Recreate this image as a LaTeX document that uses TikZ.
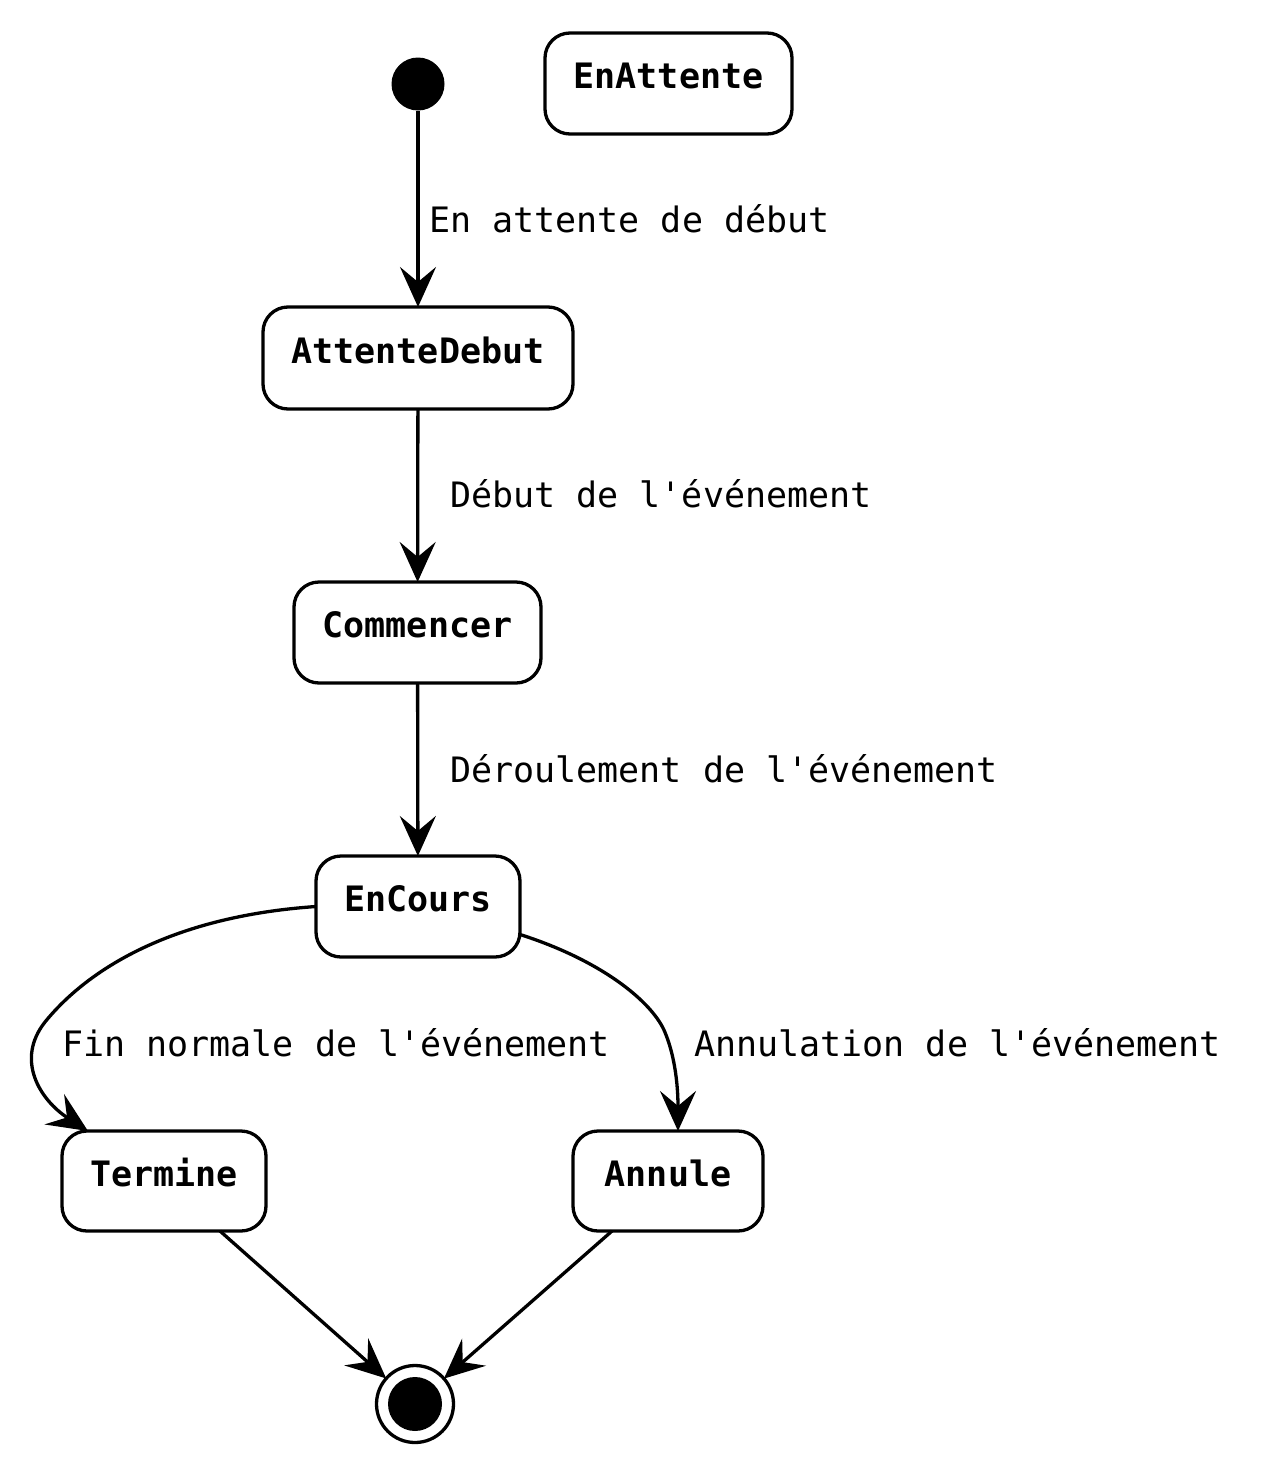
\documentclass[tikz,border=0pt]{standalone}
\usepackage{fontspec}
\newfontfamily\monof{DejaVu Sans Mono}
\usetikzlibrary{arrows.meta}
\begin{document}
\begin{tikzpicture}[x=1pt,y=-1pt,
  state/.style={draw=black,line width=3.3pt,rounded corners=25pt,fill=white,inner sep=0pt,outer sep=0pt,
    font=\monof\bfseries\fontsize{35}{42}\selectfont,text height=25pt,text depth=15pt},
  lbl/.style={inner sep=0pt,anchor=base west,font=\monof\fontsize{35}{42}\selectfont},
  trans/.style={line width=3.3pt,-{Stealth[length=40pt,width=36pt,inset=15pt]}},
  plain/.style={line width=3pt}]
\useasboundingbox (0,0) rectangle (1274,1475);
\node[circle,fill=black,inner sep=0pt,minimum size=53pt] (init) at (418,84) {};
\node[state,minimum width=247pt,minimum height=101pt] (enattente) at (668.5,83.5) {EnAttente};
\node[state,minimum width=310pt,minimum height=102pt] (attdebut) at (418,358) {AttenteDebut};
\node[state,minimum width=247pt,minimum height=101pt] (commencer) at (417.5,632.5) {Commencer};
\node[state,minimum width=204pt,minimum height=101pt] (encours) at (418,906.5) {EnCours};
\node[state,minimum width=204pt,minimum height=100pt] (termine) at (164,1181) {Termine};
\node[state,minimum width=190pt,minimum height=100pt] (annule) at (668,1181) {Annule};
\node[circle,draw=black,line width=3.3pt,fill=white,inner sep=0pt,outer sep=0pt,minimum size=77pt] (final) at (415,1404) {};
\node[circle,fill=black,inner sep=0pt,minimum size=54pt] (finalin) at (415,1404) {};

\draw[trans] (init) -- (attdebut);
\draw[trans] (attdebut) -- (commencer);
\draw[trans] (commencer) -- (encours);
\draw[trans] (encours.west) .. controls (150,918) and (75,985) .. (45,1022)
   .. controls (15,1060) and (40,1100) .. ([xshift=26pt]termine.north west);
\draw[trans] ([yshift=-28pt]encours.east) .. controls (600,960) and (650,1000) .. (664,1030)
   .. controls (678,1062) and (678,1100) .. ([xshift=10pt]annule.north);
\draw[trans] ([xshift=56pt]termine.south) -- (final);
\draw[trans] ([xshift=-56pt]annule.south) -- (final);

\node[lbl] (l1) at (429,232) {En attente de début};
\node[lbl] (l2) at (450,507) {Début de l'événement};
\node[lbl] (l3) at (450,782) {Déroulement de l'événement};
\node[lbl] (l4) at (62,1056) {Fin normale de l'événement};
\node[lbl] (l5) at (694,1056) {Annulation de l'événement};
\end{tikzpicture}
\end{document}
